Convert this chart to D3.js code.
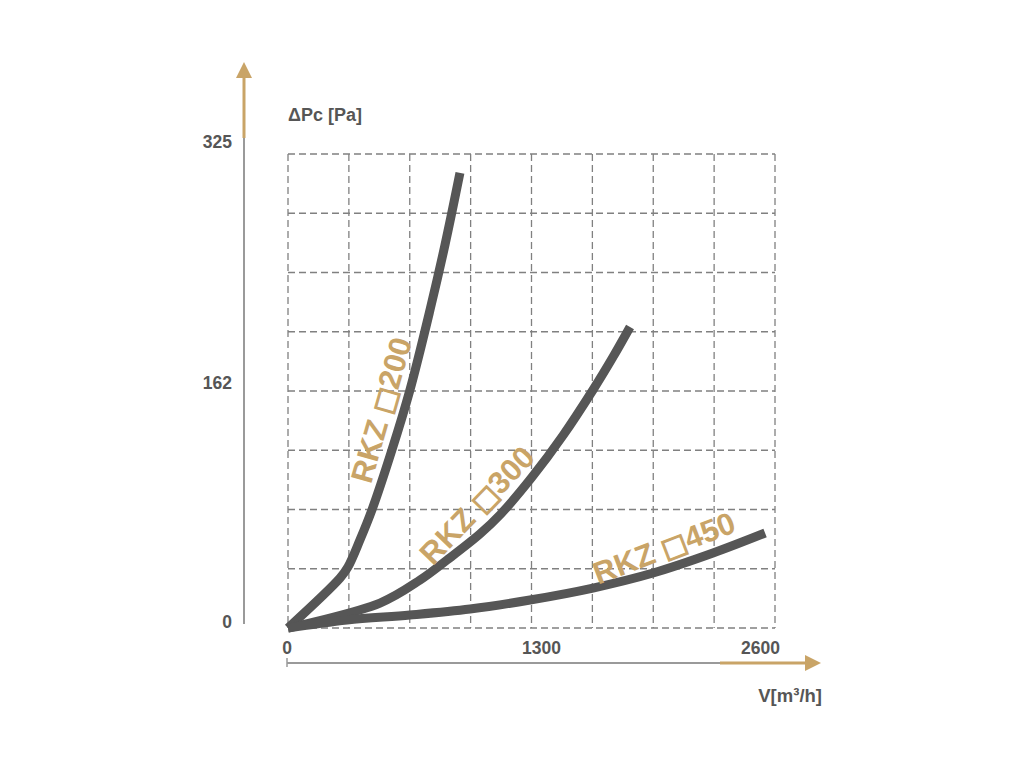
<!DOCTYPE html>
<html><head><meta charset="utf-8">
<script src="https://cdn.jsdelivr.net/npm/d3@7"></script>
<style>
html,body{margin:0;padding:0;background:#fff;}
svg{display:block;}
</style></head>
<body>
<svg id="chart" width="1024" height="768"></svg>
<script>
// ---- data ----
const xTicks = [0, 1300, 2600];
const yTicks = [0, 162, 325];
const xTitle = "V[m³/h]";
const yTitle = "ΔPc [Pa]";
const seriesPrefix = ["RKZ ", "RKZ ", "RKZ "];
const seriesSize = ["200", "300", "450"];
const rkz200V = [0, 278, 320, 384, 448, 555, 651, 758, 838, 918];
const rkz200P = [0, 34.3, 41.8, 60.3, 80.9, 122.1, 163.2, 218.0, 262.6, 312.0];
const rkz300V = [0, 491, 705, 849, 1025, 1135, 1303, 1468, 1628, 1735, 1826];
const rkz300P = [0, 17.1, 32.9, 46.6, 64.5, 78.0, 103.5, 132.0, 163.2, 185.8, 206.4];
const rkz450V = [0, 315, 651, 972, 1292, 1628, 1949, 2269, 2547];
const rkz450P = [0, 5.5, 8.9, 13.0, 19.2, 27.4, 37.7, 51.4, 65.1];
const gridDiv = 8;

// ---- layout ----
const svg = d3.select("#chart");
const x = d3.scaleLinear().domain([0, 2600]).range([288, 775]);
const y = d3.scaleLinear().domain([0, 325]).range([628, 154]);
const yLab = d3.scaleLinear().domain([0, 325]).range([622, 142]);
const gold = "#c9a467", grey = "#9a9a9a", dark = "#565656";
const sans = "'Liberation Sans',Arial,sans-serif";

// grid
const gx = d3.range(gridDiv + 1).map(i => 2600 * i / gridDiv);
const gy = d3.range(gridDiv + 1).map(i => 325 * i / gridDiv);
const grid = svg.append("g").attr("stroke", "#808080").attr("stroke-width", 1.3)
  .attr("stroke-dasharray", "7,4").attr("fill", "none");
grid.selectAll("line.v").data(gx).join("line").attr("class", "v")
  .attr("x1", d => x(d)).attr("x2", d => x(d)).attr("y1", y(325)).attr("y2", y(0));
grid.selectAll("line.h").data(gy).join("line").attr("class", "h")
  .attr("y1", d => y(d)).attr("y2", d => y(d)).attr("x1", x(0)).attr("x2", x(2600));

// axes
const ax = svg.append("g");
const yAxisX = 244, xAxisY = 663;
ax.append("line").attr("x1", yAxisX).attr("x2", yAxisX).attr("y1", 137).attr("y2", 624)
  .attr("stroke", grey).attr("stroke-width", 2);
ax.append("line").attr("x1", yAxisX).attr("x2", yAxisX).attr("y1", 78).attr("y2", 138)
  .attr("stroke", gold).attr("stroke-width", 3);
ax.append("path").attr("d", `M${yAxisX},62 L${yAxisX - 8},78 L${yAxisX + 8},78 Z`).attr("fill", gold);

ax.append("line").attr("x1", x(0) - 1).attr("x2", 722).attr("y1", xAxisY).attr("y2", xAxisY)
  .attr("stroke", grey).attr("stroke-width", 2);
ax.append("line").attr("x1", x(0) - 1).attr("x2", x(0) - 1).attr("y1", xAxisY - 5).attr("y2", xAxisY + 4)
  .attr("stroke", grey).attr("stroke-width", 1.5);
ax.append("line").attr("x1", 720).attr("x2", 806).attr("y1", xAxisY).attr("y2", xAxisY)
  .attr("stroke", gold).attr("stroke-width", 3);
ax.append("path").attr("d", `M821,${xAxisY} L805,${xAxisY - 8} L805,${xAxisY + 8} Z`).attr("fill", gold);

// tick labels
svg.append("g").selectAll("text").data(yTicks).join("text")
  .attr("x", 232).attr("y", d => yLab(d)).attr("dy", "0.35em")
  .attr("text-anchor", "end").attr("font-family", sans).attr("font-weight", "bold")
  .attr("font-size", 17.5).attr("fill", dark).text(d => d);
svg.append("g").selectAll("text").data(xTicks).join("text")
  .attr("x", (d, i) => i === 0 ? x(d) - 1 : i === xTicks.length - 1 ? x(d) + 5 : x(d) + 10)
  .attr("y", 648).attr("dy", "0.35em")
  .attr("text-anchor", (d, i) => i === xTicks.length - 1 ? "end" : "middle")
  .attr("font-family", sans).attr("font-weight", "bold")
  .attr("font-size", 17.5).attr("fill", dark).text(d => d);

// titles
svg.append("text").attr("x", 288).attr("y", 115).attr("dy", "0.35em")
  .attr("font-family", sans).attr("font-weight", "bold").attr("font-size", 18)
  .attr("fill", dark).text(yTitle);
svg.append("text").attr("x", 822).attr("y", 696).attr("dy", "0.35em").attr("text-anchor", "end")
  .attr("font-family", sans).attr("font-weight", "bold").attr("font-size", 18.5)
  .attr("fill", dark).text(xTitle);

// curves
const series = [
  {i: 0, v: rkz200V, p: rkz200P},
  {i: 1, v: rkz300V, p: rkz300P},
  {i: 2, v: rkz450V, p: rkz450P}
];
const line = d3.line().x(d => x(d[0])).y(d => y(d[1])).curve(d3.curveCatmullRom.alpha(0.5));
svg.append("g").selectAll("path").data(series).join("path")
  .attr("d", s => line(s.v.map((v, i) => [v, s.p[i]])))
  .attr("fill", "none").attr("stroke", dark).attr("stroke-width", 9)
  .attr("stroke-linejoin", "round").attr("stroke-linecap", "butt");

// curve labels (placed in data space)
const labelPos = [[497, 149.5, -74], [1009, 84.3, -46], [2007, 54.9, -21]];
const lbl = svg.append("g").selectAll("text").data(series).join("text")
  .attr("transform", s => `translate(${x(labelPos[s.i][0])},${y(labelPos[s.i][1])}) rotate(${labelPos[s.i][2]})`)
  .attr("text-anchor", "middle").attr("dy", "0.35em")
  .attr("font-family", sans).attr("font-weight", "bold")
  .attr("font-size", 31).attr("fill", gold);
lbl.append("tspan").text(s => seriesPrefix[s.i]);
lbl.append("tspan").attr("font-family", "'DejaVu Sans',sans-serif").attr("font-weight", "bold")
  .attr("font-size", 27).attr("stroke", gold).attr("stroke-width", 1.3).text("□");
lbl.append("tspan").text(s => seriesSize[s.i]);
</script>
</body></html>
